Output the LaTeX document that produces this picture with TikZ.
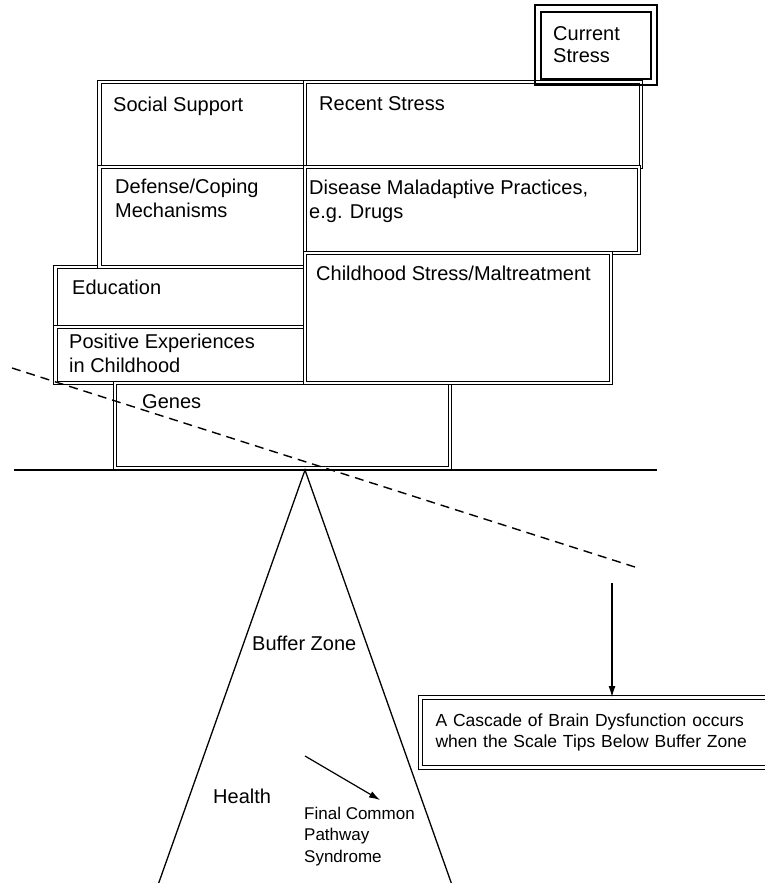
\documentclass[tikz,border=0pt]{standalone}
\usepackage{fontspec}
\setmainfont{Liberation Sans}
\usetikzlibrary{arrows.meta}

\begin{document}
\begin{tikzpicture}[x=1pt,y=-1pt,
    dbox/.style={draw,double,line width=1.1pt,double distance=2.2pt},
    lbl/.style={anchor=base west,inner sep=0pt,align=left,font=\fontsize{20}{24}\selectfont},
    small/.style={lbl,font=\fontsize{17}{21}\selectfont},
    arr/.style={-{Latex[length=11pt,width=7pt]},line width=1.2pt}]
  \useasboundingbox (0,0) rectangle (764,883);
  % the scale: blocks piled on the beam
  \draw[dbox] (55.5,267) rectangle (305,327);
  \draw[dbox] (55.5,327) rectangle (305,383);
  \draw[dbox] (115,383) rectangle (450,468);
  \draw[dbox] (99.5,82) rectangle (305,167);
  \draw[dbox] (99.5,167) rectangle (305,267);
  \draw[dbox] (305,82) rectangle (641,167);
  \draw[dbox] (305,167) rectangle (639,253);
  \draw[dbox] (305,253) rectangle (611,383);
  \draw[line width=1.1pt] (535,5) rectangle (657,85);
  \draw[line width=2.4pt] (541,12) rectangle (651,79);
  \node[lbl] (social) at (113,111) {Social Support};
  \node[lbl] (coping) at (115,217) {Defense/Coping\\Mechanisms};
  \node[lbl] (recent) at (319,110) {Recent Stress};
  \node[lbl] (drugs) at (309,218) {Disease Maladaptive Practices,\\e.g. Drugs};
  \node[lbl] (child) at (316,280) {Childhood Stress/Maltreatment};
  \node[lbl] (educ) at (72,294) {Education};
  \node[lbl] (posexp) at (69,372) {Positive Experiences\\in Childhood};
  \node[lbl] (genes) at (142,408) {Genes};
  \node[lbl,font=\fontsize{20}{22}\selectfont] (current) at (553,63) {Current\\Stress};
  % beam, tilt and fulcrum
  \draw[line width=1.3pt] (14,470) -- (657,470);
  \draw[line width=1.4pt,dash pattern=on 9pt off 6pt] (12,368) -- (638,568);
  \draw[line width=1.3pt] (158,885) -- (305,470) -- (452,885);
  \node[lbl] (buffer) at (252,650) {Buffer Zone};
  \node[lbl] (health) at (213,803) {Health};
  \node[small,font=\fontsize{17}{21.5}\selectfont] (fcp) at (304,862) {Final Common\\Pathway\\Syndrome};
  \coordinate (hfrom) at (305,756);
  \coordinate (hto) at (380,800);
  \draw[arr] (hfrom) -- (hto);
  \node[dbox,anchor=north west,minimum width=352pt,minimum height=70pt,
        text width=325pt,inner xsep=15pt,align=left,
        font=\fontsize{17.5}{21}\selectfont] (cascade) at (420,697)
        {A Cascade of Brain Dysfunction occurs\\when the Scale Tips Below Buffer Zone};
  \coordinate (tip) at (612,583);
  \draw[arr] (tip) -- (tip |- cascade.north);
\end{tikzpicture}
\end{document}
